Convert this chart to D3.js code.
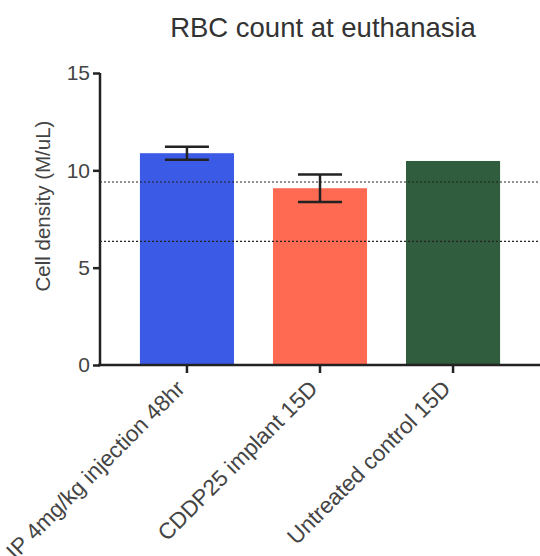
<!DOCTYPE html>
<html>
<head>
<meta charset="utf-8">
<script src="https://cdn.jsdelivr.net/npm/d3@7"></script>
<style>
  body { margin: 0; background: #fff; }
  svg { display: block; font-family: "Liberation Sans", Arial, sans-serif; }
</style>
</head>
<body>
<script>
var groups = ["IP 4mg/kg injection 48hr", "CDDP25 implant 15D", "Untreated control 15D"];
var means = [10.88, 9.08, 10.48];
var sems = [0.33, 0.71, 0];
var barColors = ["#3b5be6", "#ff6a52", "#2f5d3d"];
var refLines = [9.4, 6.35];
var yTicks = [0, 5, 10, 15];

var width = 540, height = 556;
var mLeft = 100, mTop = 73, mBottom = 365;

var svg = d3.select("body").append("svg")
  .attr("width", width)
  .attr("height", height);

var y = d3.scaleLinear().domain([0, 15]).range([mBottom, mTop]);
var x = d3.scaleBand().domain(groups).range([mLeft, width])
  .paddingInner(0.293).paddingOuter(0.3);

// title
svg.append("text")
  .attr("x", 323).attr("y", 37)
  .attr("text-anchor", "middle")
  .attr("font-size", "27.5px")
  .attr("fill", "#333")
  .text("RBC count at euthanasia");

// bars
svg.selectAll("rect.bar")
  .data(means)
  .enter().append("rect")
  .attr("class", "bar")
  .attr("x", function(d, i) { return x(groups[i]); })
  .attr("width", x.bandwidth())
  .attr("y", function(d) { return y(d); })
  .attr("height", function(d) { return y(0) - y(d); })
  .attr("fill", function(d, i) { return barColors[i]; });

// reference lines (dotted)
svg.selectAll("line.ref")
  .data(refLines)
  .enter().append("line")
  .attr("class", "ref")
  .attr("x1", mLeft).attr("x2", width)
  .attr("y1", function(d) { return y(d); })
  .attr("y2", function(d) { return y(d); })
  .attr("stroke", "#222")
  .attr("stroke-width", 1.2)
  .attr("stroke-dasharray", "2,2");

// error bars
var capW = 22;
var err = svg.selectAll("g.err")
  .data(means)
  .enter().append("g")
  .attr("class", "err")
  .filter(function(d, i) { return sems[i] > 0; });

err.append("line")
  .attr("x1", function(d, i) { return x(groups[i]) + x.bandwidth() / 2; })
  .attr("x2", function(d, i) { return x(groups[i]) + x.bandwidth() / 2; })
  .attr("y1", function(d, i) { return y(d - sems[i]); })
  .attr("y2", function(d, i) { return y(d + sems[i]); });
err.append("line")
  .attr("x1", function(d, i) { return x(groups[i]) + x.bandwidth() / 2 - capW; })
  .attr("x2", function(d, i) { return x(groups[i]) + x.bandwidth() / 2 + capW; })
  .attr("y1", function(d, i) { return y(d + sems[i]); })
  .attr("y2", function(d, i) { return y(d + sems[i]); });
err.append("line")
  .attr("x1", function(d, i) { return x(groups[i]) + x.bandwidth() / 2 - capW; })
  .attr("x2", function(d, i) { return x(groups[i]) + x.bandwidth() / 2 + capW; })
  .attr("y1", function(d, i) { return y(d - sems[i]); })
  .attr("y2", function(d, i) { return y(d - sems[i]); });
err.selectAll("line")
  .attr("stroke", "#222")
  .attr("stroke-width", 2.5);

// y axis
var yAxis = d3.axisLeft(y).tickValues(yTicks).tickSize(7).tickPadding(3);
var gy = svg.append("g")
  .attr("transform", "translate(" + mLeft + ",0)")
  .call(yAxis);
gy.select(".domain").attr("d", "M0," + mTop + "V" + mBottom);

// x axis
var xAxis = d3.axisBottom(x).tickSize(8).tickFormat("");
var gx = svg.append("g")
  .attr("transform", "translate(0," + mBottom + ")")
  .call(xAxis);
gx.select(".domain").attr("d", "M" + (mLeft - 2) + ",0H" + width);

svg.selectAll(".domain, .tick line")
  .attr("stroke", "#222")
  .attr("stroke-width", 2.5);
gy.selectAll(".tick text")
  .attr("font-size", "21px")
  .attr("fill", "#444")
  .attr("font-family", "Liberation Sans, Arial, sans-serif");

// rotated category labels
svg.selectAll("text.xlab")
  .data(groups)
  .enter().append("text")
  .attr("class", "xlab")
  .attr("text-anchor", "end")
  .attr("font-size", "22.5px")
  .attr("fill", "#444")
  .attr("transform", function(d) {
    return "translate(" + (x(d) + x.bandwidth() / 2 - 1) + "," + (mBottom + 25) + ") rotate(-45)";
  })
  .text(function(d) { return d; });

// y label
svg.append("text")
  .attr("transform", "translate(50," + ((mTop + mBottom) / 2 - 13) + ") rotate(-90)")
  .attr("text-anchor", "middle")
  .attr("font-size", "20.5px")
  .attr("fill", "#444")
  .text("Cell density (M/uL)");
</script>
</body>
</html>
